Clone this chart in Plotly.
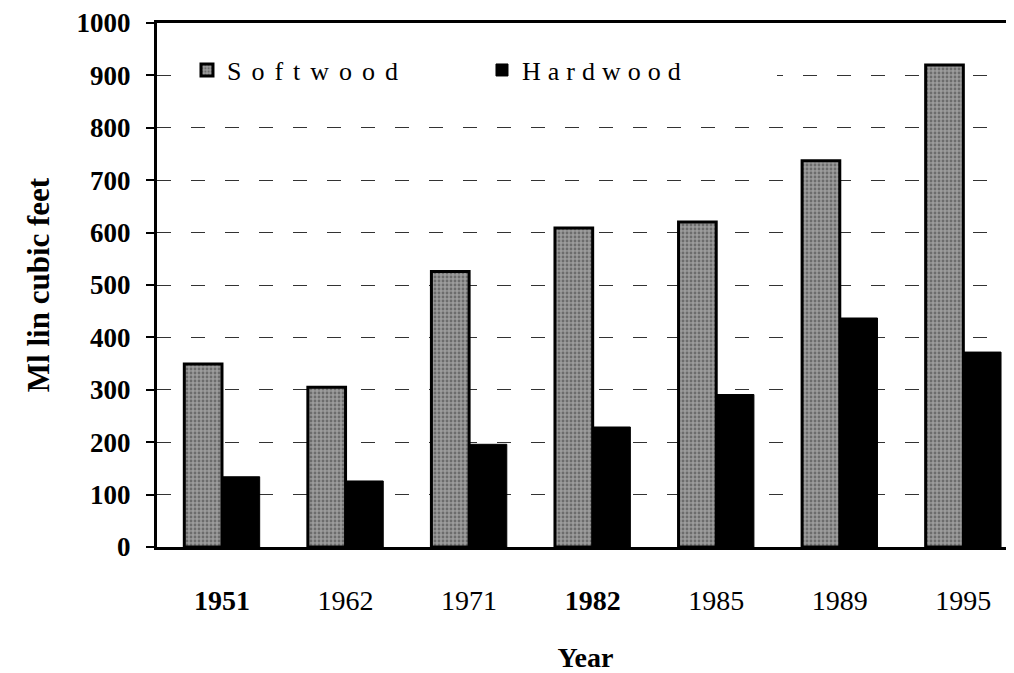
import plotly.graph_objects as go

years = ["1951", "1962", "1971", "1982", "1985", "1989", "1995"]
year_labels = ["<b>1951</b>", "1962", "1971", "<b>1982</b>", "1985", "1989", "1995"]
softwood = [349, 305, 526, 609, 620, 737, 920]
hardwood = [134, 126, 196, 229, 291, 437, 372]
y_ticks = [0, 100, 200, 300, 400, 500, 600, 700, 800, 900, 1000]

SERIF = "Liberation Serif"

fig = go.Figure()
fig.add_trace(go.Bar(
    x=list(range(len(years))), y=softwood,
    name='<span style="letter-spacing:10px">Softwood</span>',
    marker=dict(color="#8a8a8a",
                pattern=dict(shape=".", fgcolor="#3c3c3c", bgcolor="#9c9c9c", size=4, solidity=0.4),
                line=dict(color="black", width=3)),
))
fig.add_trace(go.Bar(
    x=list(range(len(years))), y=hardwood,
    name='<span style="letter-spacing:7px">Hardwood</span>',
    marker=dict(color="black", line=dict(color="black", width=1)),
))

# the page has an 8px body margin; size the figure so plot area lands where the reference has it
fig.update_layout(
    width=1006, height=665,
    margin=dict(l=149, r=0, t=15, b=126),
    paper_bgcolor="white", plot_bgcolor="white",
    barmode="group", bargap=0.39, bargroupgap=0,
    font=dict(family=SERIF, color="black"),
    showlegend=True,
    legend=dict(orientation="h", x=0.035, y=0.955, xanchor="left", yanchor="top",
                bgcolor="white", font=dict(size=26, family=SERIF, color="black"),
                itemwidth=30, entrywidth=250, entrywidthmode="pixels"),
)
fig.update_xaxes(
    range=[-0.526, 6.41],
    tickmode="array", tickvals=list(range(len(years))), ticktext=year_labels,
    tickfont=dict(size=28, family=SERIF, color="black"),
    ticks="", showgrid=False,
    showline=True, linecolor="black", linewidth=3, mirror=True,
    ticklabelstandoff=26,
    title=dict(text="<b>Year</b>", font=dict(size=28, family=SERIF, color="black"), standoff=35),
)
fig.update_yaxes(
    range=[0, 1000],
    tickmode="array", tickvals=y_ticks, ticktext=[f"<b>{v}</b>" for v in y_ticks],
    tickfont=dict(size=27, family=SERIF, color="black"),
    ticks="outside", ticklen=8, tickwidth=2, tickcolor="black",
    showline=True, linecolor="black", linewidth=3,
    showgrid=True, gridcolor="#333333", gridwidth=1.2, griddash="14px,20px",
    zeroline=False,
    ticklabelstandoff=10,
    title=dict(text="<b>Ml lin cubic feet</b>", font=dict(size=31, family=SERIF, color="black"), standoff=18),
)

fig.write_html("out.html")
